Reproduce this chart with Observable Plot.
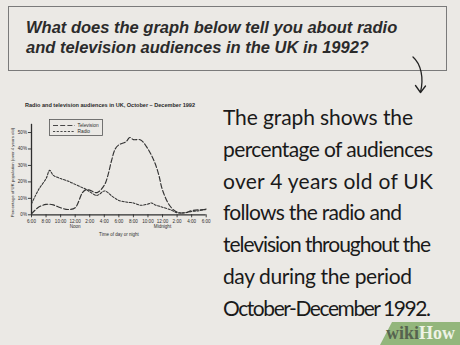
<!DOCTYPE html>
<html><head><meta charset="utf-8">
<script src="https://cdn.jsdelivr.net/npm/d3@7"></script>
<script src="https://cdn.jsdelivr.net/npm/@observablehq/plot@0.6"></script>
<style>
html,body{margin:0;padding:0;background:#ebe9e5;}
#page{position:relative;width:460px;height:345px;background:#ebe9e5;overflow:hidden;font-family:"Liberation Sans",Arial,sans-serif;}
#qbox{position:absolute;left:8px;top:6px;width:437px;height:63px;border:1px solid #7a7a7a;}
#question{position:absolute;left:26px;top:16.6px;font-style:italic;font-weight:bold;font-size:16.5px;line-height:20px;color:#2b2b2b;white-space:nowrap;}
#chart{position:absolute;left:0;top:110px;}
#overlay{position:absolute;left:0;top:0;}
</style>
</head><body>
<div id="page">
  <div id="qbox"></div>
  <div id="question"></div>
  <div id="chart"></div>
  <svg id="overlay" width="460" height="345"></svg>
</div>
<script>
// ---- data ----
const hours      = [6, 7, 8, 8.5, 9, 10, 11, 12, 13, 13.5, 14, 15, 16, 16.5, 17, 17.5, 18, 19, 19.5, 20, 21, 22, 22.5, 23, 23.5, 24, 25, 26, 27, 28, 29, 30];
const television = [0.6, 4.7, 6.3, 6.4, 6, 4.3, 3.2, 4.3, 13.5, 15.3, 15, 13.5, 18, 24, 33, 40, 42.5, 44.5, 47, 45.7, 45.5, 40, 36, 31, 24, 15, 5.5, 1.6, 1.2, 2.5, 3, 3.2];
const radio      = [6.7, 15.5, 22, 27, 24, 22, 20.5, 18.5, 16.5, 15.5, 14, 11.8, 14.5, 13.5, 11.5, 10, 8.7, 7.8, 7.5, 7.2, 5.8, 6.5, 7.2, 6, 5.3, 4.6, 3.2, 1.3, 1.2, 2, 2.5, 3.5];
const xTicks     = [6, 8, 10, 12, 14, 16, 18, 20, 22, 24, 26, 28, 30];
const yTicks     = [0, 10, 20, 30, 40, 50];
const noteHours  = [12, 24];
const noteLabels = ["Noon", "Midnight"];
const seriesNames = ["Television", "Radio"];
const chartTitle = "Radio and television audiences in UK, October \u2013 December 1992";
const xLabel = "Time of day or night";
const yLabel = "Percentage of UK population (over 4 years old)";
const question = ["What does the graph below tell you about radio", "and television audiences in the UK in 1992?"];
const answerLines = ["The graph shows the", "percentage of audiences", "over 4 years old of UK", "follows the radio and", "television throughout the", "day during the period", "October-December 1992."];

document.getElementById("question").innerHTML = question.join("<br>");

const tickLabel = h => ((h - 1) % 12 + 1) + ":00";
const tvData = hours.map((h, i) => ({hour: h, value: television[i]}));
const radioData = hours.map((h, i) => ({hour: h, value: radio[i]}));
const notes = noteHours.map((h, i) => ({hour: h, label: noteLabels[i]}));
const ink = "#2e2e2e";

const chart = Plot.plot({
  width: 212, height: 135,
  marginLeft: 31, marginRight: 6.3, marginTop: 13.8, marginBottom: 30.7,
  style: {background: "transparent", fontFamily: "Liberation Sans, Arial, sans-serif", fontSize: "4.6px", color: ink, overflow: "visible"},
  x: {domain: [6, 30]},
  y: {domain: [0, 55]},
  marks: [
    Plot.axisX({ticks: xTicks, tickFormat: tickLabel, tickSize: 3, tickPadding: 1.5, label: null, stroke: ink, strokeWidth: 0.9}),
    Plot.axisY({ticks: yTicks, tickFormat: d => d + "%", tickSize: 3, tickPadding: 1.5, label: null, stroke: ink, strokeWidth: 0.9}),
    Plot.ruleY([0], {x1: 6, x2: 30, stroke: ink, strokeWidth: 1.3}),
    Plot.ruleX([6], {y1: 0, y2: 55, stroke: ink, strokeWidth: 1.3}),
    Plot.line(tvData, {x: "hour", y: "value", curve: "catmull-rom", stroke: "#333", strokeWidth: 1.15, strokeDasharray: "5,2.2"}),
    Plot.line(radioData, {x: "hour", y: "value", curve: "catmull-rom", stroke: "#333", strokeWidth: 1.05, strokeDasharray: "2.2,1.5"}),
    Plot.text(notes, {x: "hour", text: "label", frameAnchor: "bottom", dy: 13.3, fontSize: 4.6}),
    Plot.text([xLabel], {frameAnchor: "bottom", dy: 21.4, fontSize: 4.5}),
    Plot.text([yLabel], {frameAnchor: "left", rotate: -90, dx: -19, dy: 3, textAnchor: "middle", fontSize: 4.3})
  ]
});
document.getElementById("chart").appendChild(chart);

// ---- decorations and text around the chart ----
const ov = d3.select("#overlay");
ov.append("text").attr("x", 25).attr("y", 106.5).attr("textLength", 170).attr("lengthAdjust", "spacingAndGlyphs")
  .attr("font-family", "Liberation Sans, Arial").attr("font-weight", "bold").attr("font-size", 5.4).attr("fill", "#2a2a2a").text(chartTitle);

// legend
const lg = ov.append("g");
lg.append("rect").attr("x", 49.5).attr("y", 119.5).attr("width", 53).attr("height", 16).attr("fill", "none").attr("stroke", "#555").attr("stroke-width", 0.8);
const dashes = ["5,2.2", "2.2,1.5"];
seriesNames.forEach((name, i) => {
  const yy = 125.5 + i * 6;
  lg.append("line").attr("x1", 53).attr("x2", 75).attr("y1", yy).attr("y2", yy).attr("stroke", "#353535").attr("stroke-width", 0.9).attr("stroke-dasharray", dashes[i]);
  lg.append("text").attr("x", 77.5).attr("y", yy + 1.6).attr("font-family", "Liberation Sans, Arial").attr("font-size", 4.8).attr("fill", ink).text(name);
});

// arrow
ov.append("path").attr("d", "M413,57 C421,64 424,78 420.5,92").attr("fill", "none").attr("stroke", "#222").attr("stroke-width", 1.3).attr("stroke-linecap", "round");
ov.append("path").attr("d", "M415.5,85.5 L420.5,92.5 L425.5,86").attr("fill", "none").attr("stroke", "#222").attr("stroke-width", 1.3).attr("stroke-linecap", "round").attr("stroke-linejoin", "round");

// answer text
const widths = [190, 210, 210, 179, 208, 189, 208];
answerLines.forEach((line, i) => {
  ov.append("text").attr("x", 223).attr("y", 125 + i * 31.8)
    .attr("textLength", widths[i]).attr("lengthAdjust", "spacing")
    .attr("font-family", "Lato, 'Open Sans', sans-serif").attr("font-weight", 400).attr("font-size", 21)
    .attr("fill", "#1a1a1a").text(line);
});

// wikiHow badge
ov.append("polygon").attr("points", "392,322 460,322 460,345 380,345").attr("fill", "#93b67c");
const wt = ov.append("text").attr("x", 386).attr("y", 338.5).attr("font-family", "Liberation Serif, DejaVu Serif, serif").attr("font-weight", "bold").attr("font-size", 18);
wt.append("tspan").attr("fill", "#56634f").text("wiki");
wt.append("tspan").attr("fill", "#eef3e6").text("How");
</script>
</body></html>
